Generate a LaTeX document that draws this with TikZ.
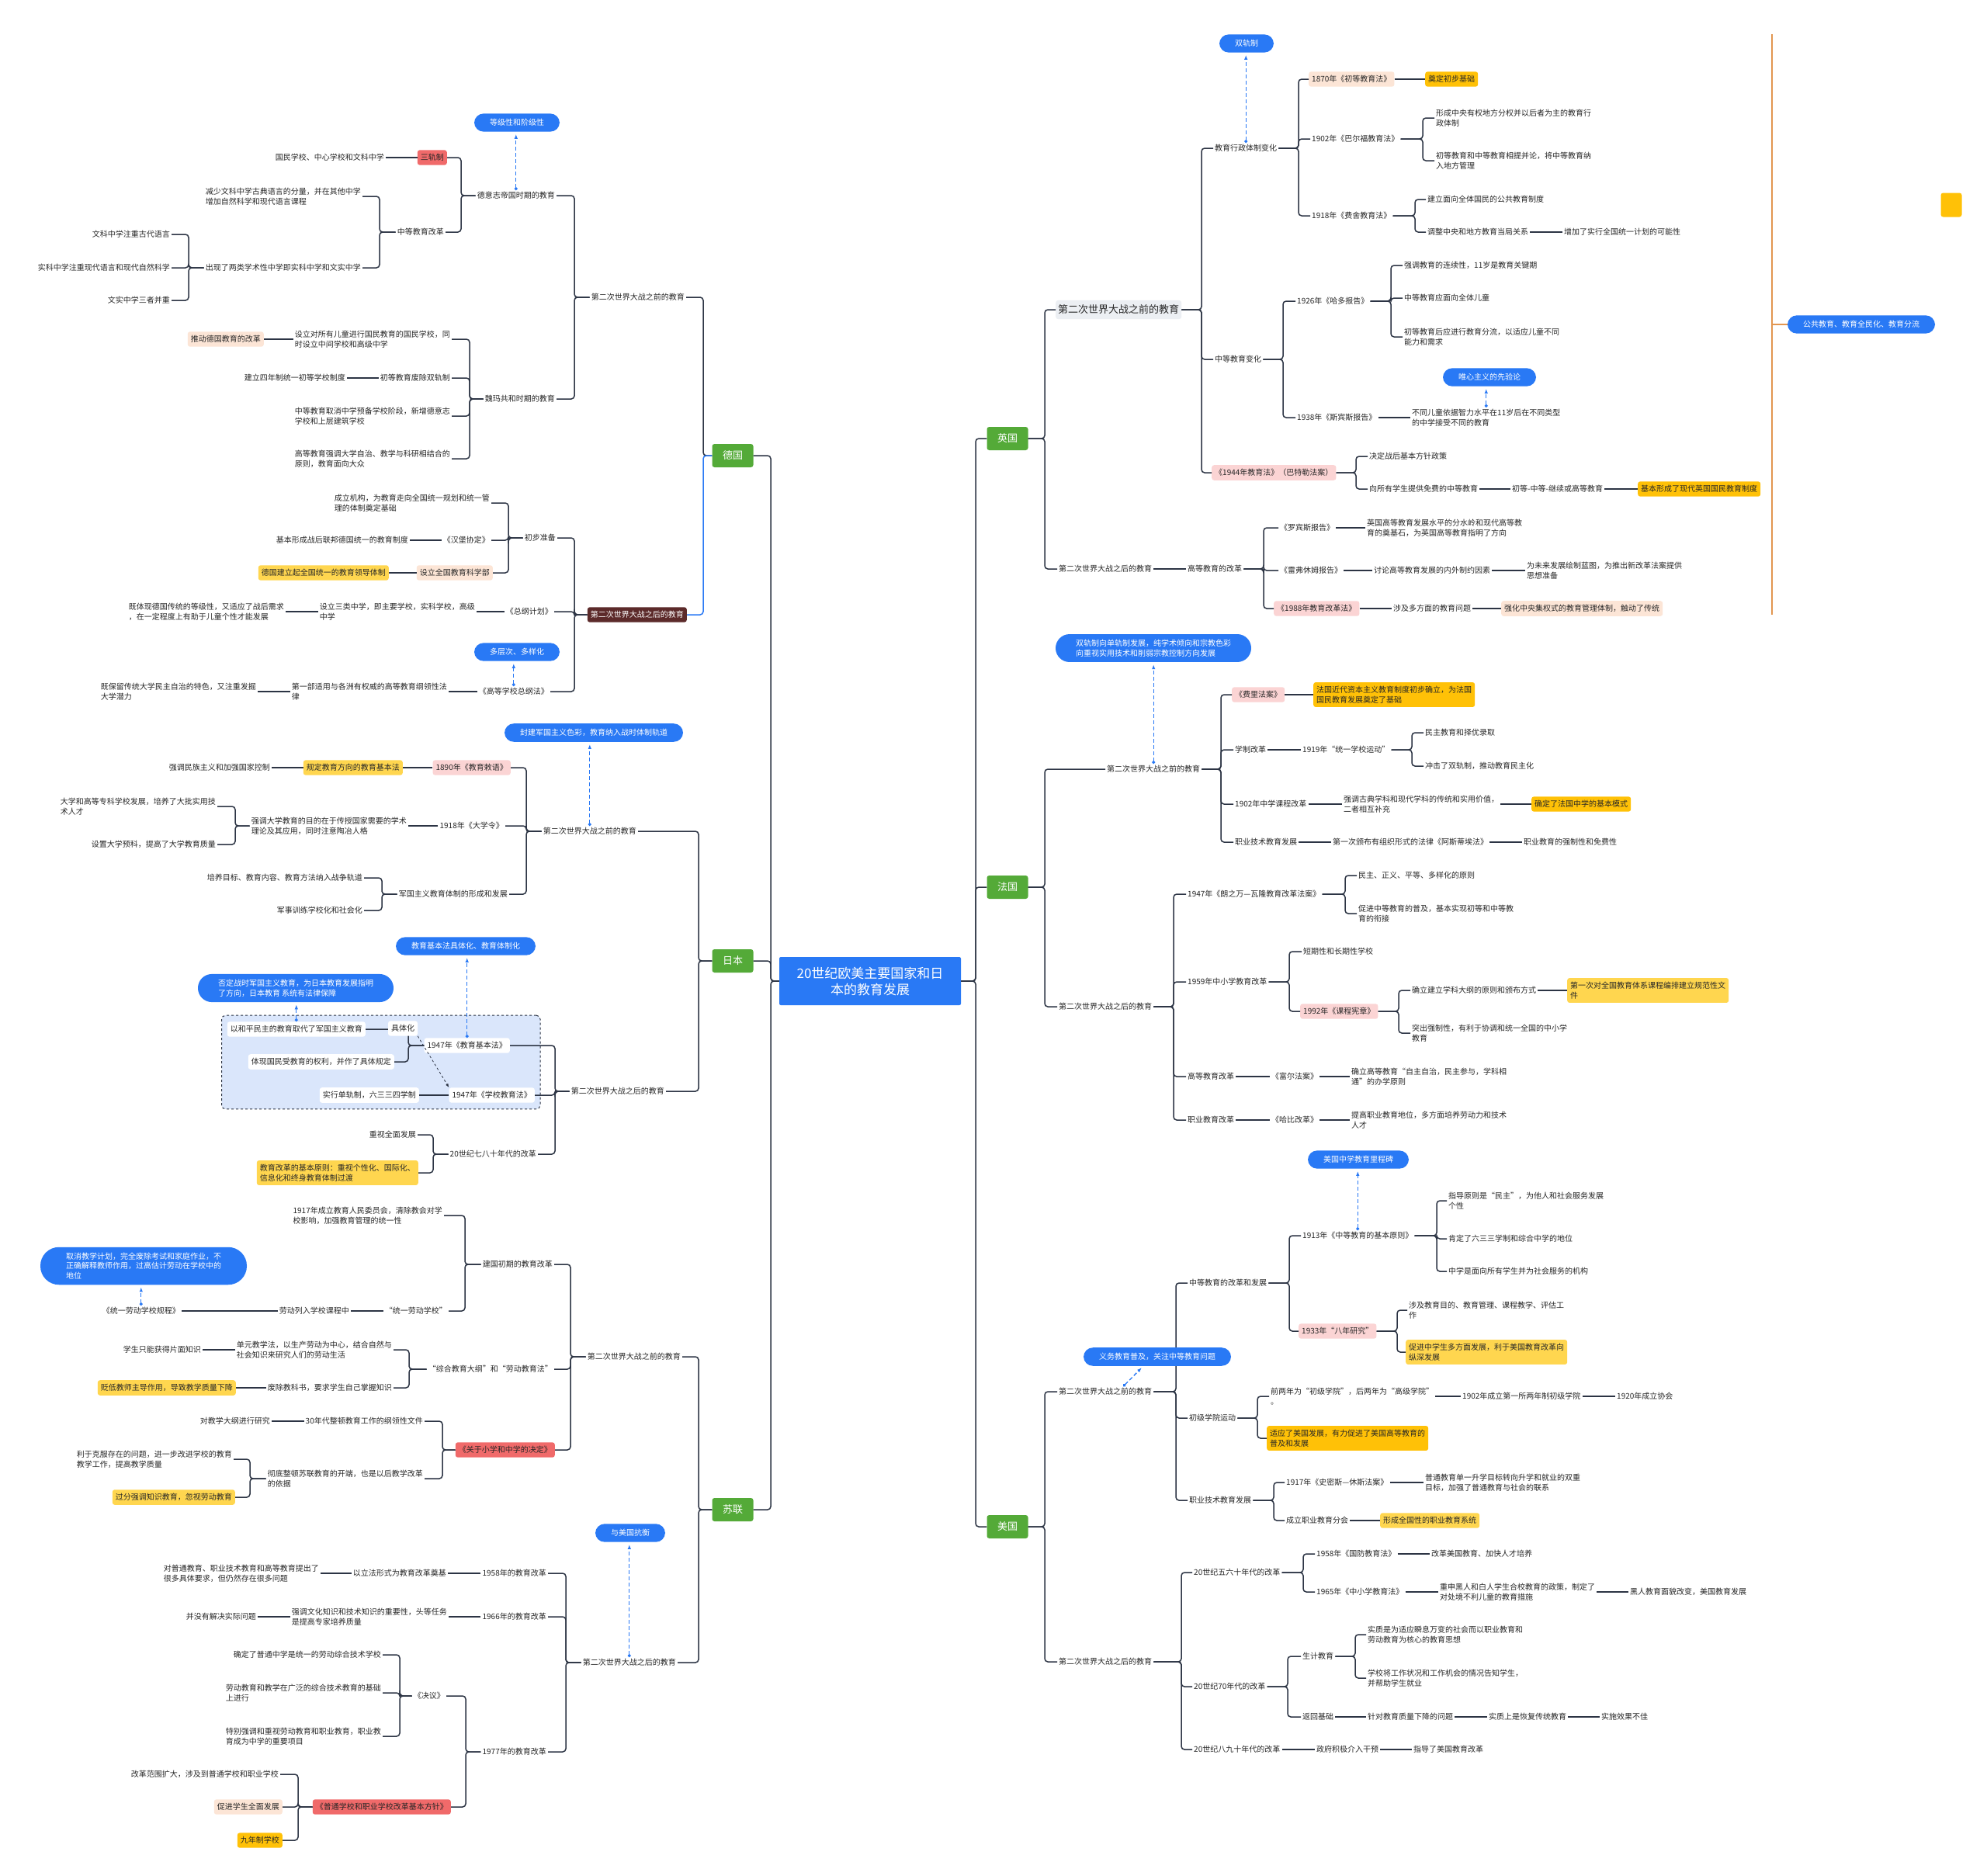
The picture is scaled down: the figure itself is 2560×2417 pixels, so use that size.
\documentclass[tikz,border=0pt]{standalone}
\usepackage{fontspec}
\setmainfont{Noto Sans CJK SC}
\usepackage{tikz}
\usetikzlibrary{arrows.meta,positioning,calc,fit,backgrounds}
\definecolor{linec}{RGB}{44,52,68}
\definecolor{bub}{RGB}{41,121,245}
\definecolor{ctryc}{RGB}{84,170,56}
\definecolor{redc}{RGB}{240,106,106}
\definecolor{pinkc}{RGB}{251,212,212}
\definecolor{peachc}{RGB}{252,229,214}
\definecolor{yelc}{RGB}{255,214,79}
\definecolor{orgc}{RGB}{255,193,7}
\definecolor{brownc}{RGB}{92,42,42}
\definecolor{greyc}{RGB}{236,239,243}
\definecolor{grpc}{RGB}{218,230,251}
\definecolor{sumc}{RGB}{226,150,80}

\begin{document}
\begin{tikzpicture}[
    x=1pt, y=-1pt,
    every node/.style={font=\fontsize{10}{12.6}\selectfont, text=black!85},
    txt/.style={inner sep=2pt, align=left},
    onL/.style={anchor=east},
    onR/.style={anchor=west},
    tagbox/.style={rounded corners=3pt, inner xsep=4pt, inner ysep=5pt, align=left},
    redt/.style={tagbox, fill=redc},
    pinkt/.style={tagbox, fill=pinkc},
    peacht/.style={tagbox, fill=peachc},
    yelt/.style={tagbox, fill=yelc},
    orgt/.style={tagbox, fill=orgc},
    whitet/.style={tagbox, fill=white},
    brownt/.style={tagbox, fill=brownc, text=white},
    greyt/.style={tagbox, fill=greyc, inner xsep=3pt, inner ysep=6pt, font=\fontsize{13}{15}\selectfont},
    ctry/.style={fill=ctryc, text=white, rounded corners=3pt, minimum width=53pt, minimum height=30pt, font=\fontsize{13}{15}\selectfont},
    cbox/.style={fill=bub, text=white, minimum width=234pt, minimum height=62pt, align=center, rounded corners=2pt, font=\fontsize{17}{21}\selectfont},
    bubble/.style={fill=bub, text=white, rounded corners=12pt, inner xsep=20pt, inner ysep=7pt, align=left},
    bubble2/.style={bubble, inner xsep=26pt, rounded corners=18pt},
    grp/.style={draw=linec, dashed, line width=1pt, fill=grpc, rounded corners=5pt, inner xsep=7pt, inner ysep=8pt},
    conn/.style={draw=linec, line width=1.5pt, rounded corners=4pt},
    br/.style={to path={-- (\tikztostart -| #1,0) |- (\tikztotarget)}},
    note/.style={draw=bub, line width=1.3pt, dash pattern=on 5pt off 3pt, shorten >=3pt, {Circle[length=4pt]}-{Latex[length=6pt]}},
    rel/.style={draw=linec, line width=0.8pt, dashed, -{Latex[length=5pt]}},
    sumline/.style={draw=sumc, line width=1.5pt}
]
\useasboundingbox (0,0) rectangle (2560,2417);
\begin{scope}[on background layer]
\fill[white] (0,0) rectangle (2560,2417);
\end{scope}

% Root
\node[cbox] (cen) at (1121,1264) {20世纪欧美主要国家和日\\本的教育发展};

% 德国
\node[ctry] (de) at (944,587) {德国};
\node[txt,onL] (dePre) at (884,383) {第二次世界大战之前的教育};
\node[brownt,onL] (dePost) at (885,792) {第二次世界大战之后的教育};
\node[txt,onL] (deEmp) at (717,252) {德意志帝国时期的教育};
\node[txt,onL] (deWei) at (717,514) {魏玛共和时期的教育};
\node[redt,onL] (deSan) at (576,203) {三轨制};
\node[txt,onL] (deSanT) at (497,203) {国民学校、中心学校和文科中学};
\node[txt,onL] (deMid) at (574,299) {中等教育改革};
\node[txt,onL] (deMid1) at (467,253) {减少文科中学古典语言的分量，并在其他中学\\增加自然科学和现代语言课程};
\node[txt,onL] (deMid2) at (467,345) {出现了两类学术性中学即实科中学和文实中学};
\node[txt,onL] (deWen) at (221,302) {文科中学注重古代语言};
\node[txt,onL] (deShi) at (221,345) {实科中学注重现代语言和现代自然科学};
\node[txt,onL] (deWs) at (221,387) {文实中学三者并重};
\node[txt,onL] (deWei1) at (582,437) {设立对所有儿童进行国民教育的国民学校，同\\时设立中间学校和高级中学};
\node[peacht,onL] (deWei1a) at (340,437) {推动德国教育的改革};
\node[txt,onL] (deWei2) at (582,487) {初等教育废除双轨制};
\node[txt,onL] (deWei2a) at (447,487) {建立四年制统一初等学校制度};
\node[txt,onL] (deWei3) at (582,536) {中等教育取消中学预备学校阶段，新增德意志\\学校和上层建筑学校};
\node[txt,onL] (deWei4) at (582,591) {高等教育强调大学自治、教学与科研相结合的\\原则，教育面向大众};
\node[txt,onL] (deInit) at (718,693) {初步准备};
\node[txt,onL] (deInit1) at (633,648) {成立机构，为教育走向全国统一规划和统一管\\理的体制奠定基础};
\node[txt,onL] (deHam) at (633,696) {《汉堡协定》};
\node[txt,onL] (deHam1) at (528,696) {基本形成战后联邦德国统一的教育制度};
\node[peacht,onL] (deMin) at (635,738) {设立全国教育科学部};
\node[yelt,onL] (deMin1) at (501,738) {德国建立起全国统一的教育领导体制};
\node[txt,onL] (deGen) at (714,788) {《总纲计划》};
\node[txt,onL] (deGen1) at (614,788) {设立三类中学，即主要学校，实科学校，高级\\中学};
\node[txt,onL] (deGen2) at (368,788) {既体现德国传统的等级性，又适应了战后需求\\，在一定程度上有助于儿童个性才能发展};
\node[txt,onL] (deHigh) at (709,891) {《高等学校总纲法》};
\node[txt,onL] (deHigh1) at (578,891) {第一部适用与各洲有权威的高等教育纲领性法\\律};
\node[txt,onL] (deHigh2) at (332,891) {既保留传统大学民主自治的特色，又注重发掘\\大学潜力};

% 日本
\node[ctry] (jp) at (944,1238) {日本};
\node[txt,onL] (jpPre) at (822,1071) {第二次世界大战之前的教育};
\node[txt,onL] (jpPost) at (858,1406) {第二次世界大战之后的教育};
\node[pinkt,onL] (jpRes) at (658,989) {1890年《教育敕语》};
\node[yelt,onL] (jpRes1) at (519,989) {规定教育方向的教育基本法};
\node[txt,onL] (jpRes2) at (350,989) {强调民族主义和加强国家控制};
\node[txt,onL] (jpUni) at (651,1064) {1918年《大学令》};
\node[txt,onL] (jpUni1) at (526,1064) {强调大学教育的目的在于传授国家需要的学术\\理论及其应用，同时注意陶冶人格};
\node[txt,onL] (jpUniA) at (280,1039) {大学和高等专科学校发展，培养了大批实用技\\术人才};
\node[txt,onL] (jpUniB) at (280,1088) {设置大学预科，提高了大学教育质量};
\node[txt,onL] (jpMil) at (656,1152) {军国主义教育体制的形成和发展};
\node[txt,onL] (jpMilA) at (469,1131) {培养目标、教育内容、教育方法纳入战争轨道};
\node[txt,onL] (jpMilB) at (469,1173) {军事训练学校化和社会化};
\node[whitet,onL] (jpBasic) at (657,1347) {1947年《教育基本法》};
\node[whitet,onL] (jpBasicA) at (471,1326) {以和平民主的教育取代了军国主义教育};
\node[whitet,onL] (jpBasicB) at (508,1368) {体现国民受教育的权利，并作了具体规定};
\node[whitet,onL] (jpSch) at (689,1411) {1947年《学校教育法》};
\node[whitet,onL] (jpSchA) at (540,1411) {实行单轨制，六三三四学制};
\node[txt,onL] (jp80) at (693,1487) {20世纪七八十年代的改革};
\node[txt,onL] (jp80A) at (538,1462) {重视全面发展};
\node[yelt,onL] (jp80B) at (539,1511) {教育改革的基本原则：重视个性化、国际化、\\信息化和终身教育体制过渡};
\begin{scope}[on background layer]
\node[grp, fit=(jpBasic)(jpBasicA)(jpBasicB)(jpSch)(jpSchA)] (jpGrp) {};
\end{scope}

% 苏联
\node[ctry] (su) at (944,1945) {苏联};
\node[txt,onL] (suPre) at (879,1748) {第二次世界大战之前的教育};
\node[txt,onL] (suPost) at (873,2142) {第二次世界大战之后的教育};
\node[txt,onL] (suEarly) at (714,1629) {建国初期的教育改革};
\node[txt,onL] (suEarly1) at (572,1566) {1917年成立教育人民委员会，清除教会对学\\校影响，加强教育管理的统一性};
\node[txt,onL] (suLab) at (578,1689) {“统一劳动学校”};
\node[txt,onL] (suLab1) at (452,1689) {劳动列入学校课程中};
\node[txt,onL] (suLab2) at (234,1689) {《统一劳动学校规程》};
\node[txt,onL] (suSyn) at (714,1764) {“综合教育大纲”和“劳动教育法”};
\node[txt,onL] (suSyn1) at (507,1739) {单元教学法，以生产劳动为中心，结合自然与\\社会知识来研究人们的劳动生活};
\node[txt,onL] (suSyn1a) at (261,1739) {学生只能获得片面知识};
\node[txt,onL] (suSyn2) at (507,1788) {废除教科书，要求学生自己掌握知识};
\node[yelt,onL] (suSyn2a) at (304,1788) {贬低教师主导作用，导致教学质量下降};
\node[redt,onL] (suDec) at (715,1868) {《关于小学和中学的决定》};
\node[txt,onL] (suDec1) at (547,1831) {30年代整顿教育工作的纲领性文件};
\node[txt,onL] (suDec1a) at (350,1831) {对教学大纲进行研究};
\node[txt,onL] (suDec2) at (547,1905) {彻底整顿苏联教育的开端，也是以后教学改革\\的依据};
\node[txt,onL] (suDec2a) at (301,1880) {利于克服存在的问题，进一步改进学校的教育\\教学工作，提高教学质量};
\node[yelt,onL] (suDec2b) at (303,1929) {过分强调知识教育，忽视劳动教育};
\node[txt,onL] (su58) at (706,2027) {1958年的教育改革};
\node[txt,onL] (su58a) at (577,2027) {以立法形式为教育改革奠基};
\node[txt,onL] (su58b) at (413,2027) {对普通教育、职业技术教育和高等教育提出了\\很多具体要求，但仍然存在很多问题};
\node[txt,onL] (su66) at (706,2083) {1966年的教育改革};
\node[txt,onL] (su66a) at (578,2083) {强调文化知识和技术知识的重要性，头等任务\\是提高专家培养质量};
\node[txt,onL] (su66b) at (332,2083) {并没有解决实际问题};
\node[txt,onL] (su77) at (706,2257) {1977年的教育改革};
\node[txt,onL] (suRes) at (575,2185) {《决议》};
\node[txt,onL] (suResA) at (493,2132) {确定了普通中学是统一的劳动综合技术学校};
\node[txt,onL] (suResB) at (493,2181) {劳动教育和教学在广泛的综合技术教育的基础\\上进行};
\node[txt,onL] (suResC) at (493,2237) {特别强调和重视劳动教育和职业教育，职业教\\育成为中学的重要项目};
\node[redt,onL] (suPol) at (581,2328) {《普通学校和职业学校改革基本方针》};
\node[txt,onL] (suPolA) at (361,2286) {改革范围扩大，涉及到普通学校和职业学校};
\node[peacht,onL] (suPolB) at (364,2328) {促进学生全面发展};
\node[orgt,onL] (suPolC) at (364,2371) {九年制学校};

% 英国
\node[ctry] (uk) at (1298,565) {英国};
\node[greyt,onR] (ukPre) at (1360,399) {第二次世界大战之前的教育};
\node[txt,onR] (ukPost) at (1362,733) {第二次世界大战之后的教育};
\node[txt,onR] (ukAdm) at (1563,191) {教育行政体制变化};
\node[peacht,onR] (uk1870) at (1686,102) {1870年《初等教育法》};
\node[orgt,onR] (uk1870a) at (1836,102) {奠定初步基础};
\node[txt,onR] (uk1902) at (1688,179) {1902年《巴尔福教育法》};
\node[txt,onR] (uk1902a) at (1848,152) {形成中央有权地方分权并以后者为主的教育行\\政体制};
\node[txt,onR] (uk1902b) at (1848,207) {初等教育和中等教育相提并论，将中等教育纳\\入地方管理};
\node[txt,onR] (uk1918) at (1688,278) {1918年《费舍教育法》};
\node[txt,onR] (uk1918a) at (1837,257) {建立面向全体国民的公共教育制度};
\node[txt,onR] (uk1918b) at (1837,299) {调整中央和地方教育当局关系};
\node[txt,onR] (uk1918c) at (2013,299) {增加了实行全国统一计划的可能性};
\node[txt,onR] (ukSec) at (1563,463) {中等教育变化};
\node[txt,onR] (ukHad) at (1669,388) {1926年《哈多报告》};
\node[txt,onR] (ukHadA) at (1807,342) {强调教育的连续性，11岁是教育关键期};
\node[txt,onR] (ukHadB) at (1807,384) {中等教育应面向全体儿童};
\node[txt,onR] (ukHadC) at (1807,434) {初等教育后应进行教育分流，以适应儿童不同\\能力和需求};
\node[txt,onR] (ukSpe) at (1669,538) {1938年《斯宾斯报告》};
\node[txt,onR] (ukSpeA) at (1817,538) {不同儿童依据智力水平在11岁后在不同类型\\的中学接受不同的教育};
\node[pinkt,onR] (uk1944) at (1561,609) {《1944年教育法》（巴特勒法案）};
\node[txt,onR] (uk1944a) at (1762,588) {决定战后基本方针政策};
\node[txt,onR] (uk1944b) at (1762,630) {向所有学生提供免费的中等教育};
\node[txt,onR] (uk1944c) at (1946,630) {初等-中等-继续或高等教育};
\node[orgt,onR] (uk1944d) at (2110,630) {基本形成了现代英国国民教育制度};
\node[txt,onR] (ukHigh) at (1528,733) {高等教育的改革};
\node[txt,onR] (ukRob) at (1647,680) {《罗宾斯报告》};
\node[txt,onR] (ukRobA) at (1759,680) {英国高等教育发展水平的分水岭和现代高等教\\育的奠基石，为英国高等教育指明了方向};
\node[txt,onR] (ukLev) at (1647,735) {《雷弗休姆报告》};
\node[txt,onR] (ukLevA) at (1768,735) {讨论高等教育发展的内外制约因素};
\node[txt,onR] (ukLevB) at (1965,735) {为未来发展绘制蓝图，为推出新改革法案提供\\思想准备};
\node[pinkt,onR] (uk1988) at (1641,784) {《1988年教育改革法》};
\node[txt,onR] (uk1988a) at (1793,784) {涉及多方面的教育问题};
\node[peacht,onR] (uk1988b) at (1934,784) {强化中央集权式的教育管理体制，触动了传统};

% 法国
\node[ctry] (fr) at (1298,1143) {法国};
\node[txt,onR] (frPre) at (1424,991) {第二次世界大战之前的教育};
\node[txt,onR] (frPost) at (1362,1297) {第二次世界大战之后的教育};
\node[pinkt,onR] (frFer) at (1587,895) {《费里法案》};
\node[orgt,onR] (frFerA) at (1692,895) {法国近代资本主义教育制度初步确立，为法国\\国民教育发展奠定了基础};
\node[txt,onR] (frSys) at (1589,966) {学制改革};
\node[txt,onR] (frSysA) at (1676,966) {1919年“统一学校运动”};
\node[txt,onR] (frSysB) at (1834,944) {民主教育和择优录取};
\node[txt,onR] (frSysC) at (1834,987) {冲击了双轨制，推动教育民主化};
\node[txt,onR] (frCur) at (1589,1036) {1902年中学课程改革};
\node[txt,onR] (frCurA) at (1729,1036) {强调古典学科和现代学科的传统和实用价值，\\二者相互补充};
\node[orgt,onR] (frCurB) at (1973,1036) {确定了法国中学的基本模式};
\node[txt,onR] (frVoc) at (1589,1085) {职业技术教育发展};
\node[txt,onR] (frVocA) at (1715,1085) {第一次颁布有组织形式的法律《阿斯蒂埃法》};
\node[txt,onR] (frVocB) at (1961,1085) {职业教育的强制性和免费性};
\node[txt,onR] (fr47) at (1528,1152) {1947年《朗之万—瓦隆教育改革法案》};
\node[txt,onR] (fr47a) at (1748,1128) {民主、正义、平等、多样化的原则};
\node[txt,onR] (fr47b) at (1748,1177) {促进中等教育的普及，基本实现初等和中等教\\育的衔接};
\node[txt,onR] (fr59) at (1528,1265) {1959年中小学教育改革};
\node[txt,onR] (fr59a) at (1677,1226) {短期性和长期性学校};
\node[pinkt,onR] (fr92) at (1675,1303) {1992年《课程宪章》};
\node[txt,onR] (fr92a) at (1817,1276) {确立建立学科大纲的原则和颁布方式};
\node[yelt,onR] (fr92b) at (2019,1276) {第一次对全国教育体系课程编排建立规范性文\\件};
\node[txt,onR] (fr92c) at (1817,1331) {突出强制性，有利于协调和统一全国的中小学\\教育};
\node[txt,onR] (frHigh) at (1528,1387) {高等教育改革};
\node[txt,onR] (frHighA) at (1636,1387) {《富尔法案》};
\node[txt,onR] (frHighB) at (1739,1387) {确立高等教育“自主自治，民主参与，学科相\\通”的办学原则};
\node[txt,onR] (frVoc2) at (1528,1443) {职业教育改革};
\node[txt,onR] (frVoc2A) at (1636,1443) {《哈比改革》};
\node[txt,onR] (frVoc2B) at (1739,1443) {提高职业教育地位，多方面培养劳动力和技术\\人才};

% 美国
\node[ctry] (us) at (1298,1967) {美国};
\node[txt,onR] (usPre) at (1362,1793) {第二次世界大战之前的教育};
\node[txt,onR] (usPost) at (1362,2141) {第二次世界大战之后的教育};
\node[txt,onR] (usSec) at (1530,1653) {中等教育的改革和发展};
\node[txt,onR] (us1913) at (1676,1592) {1913年《中等教育的基本原则》};
\node[txt,onR] (us1913a) at (1864,1547) {指导原则是“民主”，为他人和社会服务发展\\个性};
\node[txt,onR] (us1913b) at (1864,1596) {肯定了六三三学制和综合中学的地位};
\node[txt,onR] (us1913c) at (1864,1638) {中学是面向所有学生并为社会服务的机构};
\node[pinkt,onR] (us1933) at (1673,1715) {1933年“八年研究”};
\node[txt,onR] (us1933a) at (1813,1688) {涉及教育目的、教育管理、课程教学、评估工\\作};
\node[yelt,onR] (us1933b) at (1811,1742) {促进中学生多方面发展，利于美国教育改革向\\纵深发展};
\node[txt,onR] (usJun) at (1530,1827) {初级学院运动};
\node[txt,onR] (usJunA) at (1635,1799) {前两年为“初级学院”，后两年为“高级学院”\\。};
\node[txt,onR] (usJunB) at (1882,1799) {1902年成立第一所两年制初级学院};
\node[txt,onR] (usJunC) at (2081,1799) {1920年成立协会};
\node[orgt,onR] (usJunD) at (1632,1853) {适应了美国发展，有力促进了美国高等教育的\\普及和发展};
\node[txt,onR] (usVoc) at (1530,1933) {职业技术教育发展};
\node[txt,onR] (usSmi) at (1655,1910) {1917年《史密斯—休斯法案》};
\node[txt,onR] (usSmiA) at (1834,1910) {普通教育单一升学目标转向升学和就业的双重\\目标，加强了普通教育与社会的联系};
\node[txt,onR] (usAss) at (1655,1959) {成立职业教育分会};
\node[yelt,onR] (usAssA) at (1778,1959) {形成全国性的职业教育系统};
\node[txt,onR] (us50) at (1536,2026) {20世纪五六十年代的改革};
\node[txt,onR] (us58) at (1694,2002) {1958年《国防教育法》};
\node[txt,onR] (us58a) at (1842,2002) {改革美国教育、加快人才培养};
\node[txt,onR] (us65) at (1694,2051) {1965年《中小学教育法》};
\node[txt,onR] (us65a) at (1853,2051) {重申黑人和白人学生合校教育的政策，制定了\\对处境不利儿童的教育措施};
\node[txt,onR] (us65b) at (2098,2051) {黑人教育面貌改变，美国教育发展};
\node[txt,onR] (us70) at (1536,2173) {20世纪70年代的改革};
\node[txt,onR] (usCar) at (1676,2134) {生计教育};
\node[txt,onR] (usCarA) at (1760,2106) {实质是为适应瞬息万变的社会而以职业教育和\\劳动教育为核心的教育思想};
\node[txt,onR] (usCarB) at (1760,2162) {学校将工作状况和工作机会的情况告知学生，\\并帮助学生就业};
\node[txt,onR] (usBack) at (1676,2212) {返回基础};
\node[txt,onR] (usBackA) at (1760,2212) {针对教育质量下降的问题};
\node[txt,onR] (usBackB) at (1916,2212) {实质上是恢复传统教育};
\node[txt,onR] (usBackC) at (2061,2212) {实施效果不佳};
\node[txt,onR] (us80) at (1536,2254) {20世纪八九十年代的改革};
\node[txt,onR] (us80a) at (1694,2254) {政府积极介入干预};
\node[txt,onR] (us80b) at (1819,2254) {指导了美国教育改革};

% Connections: root
\foreach \c in {de,jp,su} \draw[conn] (cen.west) to[br=993] (\c.east);
\foreach \c in {uk,fr,us} \draw[conn] (cen.east) to[br=1257] (\c.west);

% Connections: 德国
\draw[conn] (de.west) to[br=906] (dePre.east);
\draw[conn, draw=bub] (de.west) to[br=906] (dePost.east);
\foreach \c in {deEmp,deWei} \draw[conn] (dePre.west) to[br=740] (\c.east);
\foreach \c in {deSan,deMid} \draw[conn] (deEmp.west) to[br=594] (\c.east);
\draw[conn] (deSan.west) -- (deSanT.east);
\foreach \c in {deMid1,deMid2} \draw[conn] (deMid.west) to[br=489] (\c.east);
\foreach \c in {deWen,deShi,deWs} \draw[conn] (deMid2.west) to[br=243] (\c.east);
\foreach \c in {deWei1,deWei2,deWei3,deWei4} \draw[conn] (deWei.west) to[br=605] (\c.east);
\draw[conn] (deWei1.west) -- (deWei1a.east);
\draw[conn] (deWei2.west) -- (deWei2a.east);
\foreach \c in {deInit,deGen,deHigh} \draw[conn] (dePost.west) to[br=740] (\c.east);
\foreach \c in {deInit1,deHam,deMin} \draw[conn] (deInit.west) to[br=655] (\c.east);
\draw[conn] (deHam.west) -- (deHam1.east);
\draw[conn] (deMin.west) -- (deMin1.east);
\draw[conn] (deGen.west) -- (deGen1.east) (deGen1.west) -- (deGen2.east);
\draw[conn] (deHigh.west) -- (deHigh1.east) (deHigh1.west) -- (deHigh2.east);

% Connections: 日本
\foreach \c in {jpPre,jpPost} \draw[conn] (jp.west) to[br=900] (\c.east);
\foreach \c in {jpRes,jpUni,jpMil} \draw[conn] (jpPre.west) to[br=678] (\c.east);
\draw[conn] (jpRes.west) -- (jpRes1.east) (jpRes1.west) -- (jpRes2.east);
\draw[conn] (jpUni.west) -- (jpUni1.east);
\foreach \c in {jpUniA,jpUniB} \draw[conn] (jpUni1.west) to[br=303] (\c.east);
\foreach \c in {jpMilA,jpMilB} \draw[conn] (jpMil.west) to[br=492] (\c.east);
\foreach \c in {jpBasic,jpSch,jp80} \draw[conn] (jpPost.west) to[br=715] (\c.east);
\foreach \c in {jpBasicA,jpBasicB} \draw[conn] (jpBasic.west) to[br=526] (\c.east);
\draw[conn] (jpSch.west) -- (jpSchA.east);
\foreach \c in {jp80A,jp80B} \draw[conn] (jp80.west) to[br=558] (\c.east);

% Connections: 苏联
\foreach \c in {suPre,suPost} \draw[conn] (su.west) to[br=900] (\c.east);
\foreach \c in {suEarly,suSyn,suDec} \draw[conn] (suPre.west) to[br=735] (\c.east);
\foreach \c in {suEarly1,suLab} \draw[conn] (suEarly.west) to[br=599] (\c.east);
\draw[conn] (suLab.west) -- (suLab1.east) (suLab1.west) -- (suLab2.east);
\foreach \c in {suSyn1,suSyn2} \draw[conn] (suSyn.west) to[br=527] (\c.east);
\draw[conn] (suSyn1.west) -- (suSyn1a.east);
\draw[conn] (suSyn2.west) -- (suSyn2a.east);
\foreach \c in {suDec1,suDec2} \draw[conn] (suDec.west) to[br=570] (\c.east);
\draw[conn] (suDec1.west) -- (suDec1a.east);
\foreach \c in {suDec2a,suDec2b} \draw[conn] (suDec2.west) to[br=322] (\c.east);
\foreach \c in {su58,su66,su77} \draw[conn] (suPost.west) to[br=729] (\c.east);
\draw[conn] (su58.west) -- (su58a.east) (su58a.west) -- (su58b.east);
\draw[conn] (su66.west) -- (su66a.east) (su66a.west) -- (su66b.east);
\foreach \c in {suRes,suPol} \draw[conn] (su77.west) to[br=600] (\c.east);
\foreach \c in {suResA,suResB,suResC} \draw[conn] (suRes.west) to[br=515] (\c.east);
\foreach \c in {suPolA,suPolB,suPolC} \draw[conn] (suPol.west) to[br=384] (\c.east);

% Connections: 英国
\foreach \c in {ukPre,ukPost} \draw[conn] (uk.east) to[br=1346] (\c.west);
\foreach \c in {ukAdm,ukSec,uk1944} \draw[conn] (ukPre.east) to[br=1548] (\c.west);
\foreach \c in {uk1870,uk1902,uk1918} \draw[conn] (ukAdm.east) to[br=1673] (\c.west);
\draw[conn] (uk1870.east) -- (uk1870a.west);
\foreach \c in {uk1902a,uk1902b} \draw[conn] (uk1902.east) to[br=1833] (\c.west);
\foreach \c in {uk1918a,uk1918b} \draw[conn] (uk1918.east) to[br=1823] (\c.west);
\draw[conn] (uk1918b.east) -- (uk1918c.west);
\foreach \c in {ukHad,ukSpe} \draw[conn] (ukSec.east) to[br=1653] (\c.west);
\foreach \c in {ukHadA,ukHadB,ukHadC} \draw[conn] (ukHad.east) to[br=1792] (\c.west);
\draw[conn] (ukSpe.east) -- (ukSpeA.west);
\foreach \c in {uk1944a,uk1944b} \draw[conn] (uk1944.east) to[br=1747] (\c.west);
\draw[conn] (uk1944b.east) -- (uk1944c.west) (uk1944c.east) -- (uk1944d.west);
\draw[conn] (ukPost.east) -- (ukHigh.west);
\foreach \c in {ukRob,ukLev,uk1988} \draw[conn] (ukHigh.east) to[br=1628] (\c.west);
\draw[conn] (ukRob.east) -- (ukRobA.west);
\draw[conn] (ukLev.east) -- (ukLevA.west) (ukLevA.east) -- (ukLevB.west);
\draw[conn] (uk1988.east) -- (uk1988a.west) (uk1988a.east) -- (uk1988b.west);

% Connections: 法国
\foreach \c in {frPre,frPost} \draw[conn] (fr.east) to[br=1346] (\c.west);
\foreach \c in {frFer,frSys,frCur,frVoc} \draw[conn] (frPre.east) to[br=1573] (\c.west);
\draw[conn] (frFer.east) -- (frFerA.west);
\draw[conn] (frSys.east) -- (frSysA.west);
\foreach \c in {frSysB,frSysC} \draw[conn] (frSysA.east) to[br=1819] (\c.west);
\draw[conn] (frCur.east) -- (frCurA.west) (frCurA.east) -- (frCurB.west);
\draw[conn] (frVoc.east) -- (frVocA.west) (frVocA.east) -- (frVocB.west);
\foreach \c in {fr47,fr59,frHigh,frVoc2} \draw[conn] (frPost.east) to[br=1512] (\c.west);
\foreach \c in {fr47a,fr47b} \draw[conn] (fr47.east) to[br=1733] (\c.west);
\foreach \c in {fr59a,fr92} \draw[conn] (fr59.east) to[br=1661] (\c.west);
\foreach \c in {fr92a,fr92c} \draw[conn] (fr92.east) to[br=1802] (\c.west);
\draw[conn] (fr92a.east) -- (fr92b.west);
\draw[conn] (frHigh.east) -- (frHighA.west) (frHighA.east) -- (frHighB.west);
\draw[conn] (frVoc2.east) -- (frVoc2A.west) (frVoc2A.east) -- (frVoc2B.west);

% Connections: 美国
\foreach \c in {usPre,usPost} \draw[conn] (us.east) to[br=1346] (\c.west);
\foreach \c in {usSec,usJun,usVoc} \draw[conn] (usPre.east) to[br=1515] (\c.west);
\foreach \c in {us1913,us1933} \draw[conn] (usSec.east) to[br=1661] (\c.west);
\foreach \c in {us1913a,us1913b,us1913c} \draw[conn] (us1913.east) to[br=1851] (\c.west);
\foreach \c in {us1933a,us1933b} \draw[conn] (us1933.east) to[br=1800] (\c.west);
\foreach \c in {usJunA,usJunD} \draw[conn] (usJun.east) to[br=1620] (\c.west);
\draw[conn] (usJunA.east) -- (usJunB.west) (usJunB.east) -- (usJunC.west);
\foreach \c in {usSmi,usAss} \draw[conn] (usVoc.east) to[br=1641] (\c.west);
\draw[conn] (usSmi.east) -- (usSmiA.west);
\draw[conn] (usAss.east) -- (usAssA.west);
\foreach \c in {us50,us70,us80} \draw[conn] (usPost.east) to[br=1522] (\c.west);
\foreach \c in {us58,us65} \draw[conn] (us50.east) to[br=1679] (\c.west);
\draw[conn] (us58.east) -- (us58a.west);
\draw[conn] (us65.east) -- (us65a.west) (us65a.east) -- (us65b.west);
\foreach \c in {usCar,usBack} \draw[conn] (us70.east) to[br=1659] (\c.west);
\foreach \c in {usCarA,usCarB} \draw[conn] (usCar.east) to[br=1746] (\c.west);
\draw[conn] (usBack.east) -- (usBackA.west) (usBackA.east) -- (usBackB.west) (usBackB.east) -- (usBackC.west);
\draw[conn] (us80.east) -- (us80a.west) (us80a.east) -- (us80b.west);

% Notes (drawn over the lines)
\node[whitet] (jpConc) at (519,1325) {具体化};
\draw[rel] (jpConc.south east) -- (jpSch.north west);
\node[bubble] (deRank) at (666,158) {等级性和阶级性};
\node[bubble] (deMulti) at (666,840) {多层次、多样化};
\node[bubble] (jpFeu) at (765,944) {封建军国主义色彩，教育纳入战时体制轨道};
\node[bubble] (jpBasicBub) at (600,1219) {教育基本法具体化、教育体制化};
\node[bubble2] (jpNeg) at (381,1273) {否定战时军国主义教育，为日本教育发展指明\\了方向，日本教育 系统有法律保障};
\node[bubble, inner xsep=33pt, rounded corners=24pt] (suLabBub) at (185,1631) {取消教学计划，完全废除考试和家庭作业，不\\正确解释教师作用，过高估计劳动在学校中的\\地位};
\node[bubble] (suUSA) at (812,1975) {与美国抗衡};
\node[bubble] (ukDual) at (1606,56) {双轨制};
\node[bubble] (ukIdeal) at (1919,486) {唯心主义的先验论};
\node[bubble2] (frBub) at (1486,835) {双轨制向单轨制发展，纯学术倾向和宗教色彩\\向重视实用技术和削弱宗教控制方向发展};
\node[bubble] (usMile) at (1750,1494) {美国中学教育里程碑};
\node[bubble] (usDuty) at (1491,1748) {义务教育普及，关注中等教育问题};

\draw[note] (deEmp.north) -- (deEmp.north |- deRank.south);
\draw[note] (deHigh.north) -- (deHigh.north |- deMulti.south);
\draw[note] (jpPre.north) -- (jpPre.north |- jpFeu.south);
\draw[note] (jpBasic.north) -- (jpBasic.north |- jpBasicBub.south);
\draw[note] (jpBasicA.north) -- (jpBasicA.north |- jpNeg.south);
\draw[note] (suLab2.north) -- (suLab2.north |- suLabBub.south);
\draw[note] (suPost.north) -- (suPost.north |- suUSA.south);
\draw[note] (ukAdm.north) -- (ukAdm.north |- ukDual.south);
\draw[note] (ukSpeA.north) -- (ukSpeA.north |- ukIdeal.south);
\draw[note] (frPre.north) -- (frPre.north |- frBub.south);
\draw[note] (us1913.north) -- (us1913.north |- usMile.south);
\draw[note] ($(usPre.north)+(23,0)$) -- ($(usDuty.south)+(-18,0)$);

% Summary of 英国
\coordinate (sumTop) at (2283,44);
\coordinate (sumBot) at (2283,792);
\draw[sumline] (sumTop) -- (sumBot);
\node[bubble] (ukSum) at (2398,418) {公共教育、教育全民化、教育分流};
\draw[sumline] (sumTop |- ukSum.west) -- (ukSum.west);
\node[fill=orgc, rounded corners=3pt, minimum width=27pt, minimum height=31pt, inner sep=0pt] (ukFold) at (2514,264) {};

\end{tikzpicture}
\end{document}
